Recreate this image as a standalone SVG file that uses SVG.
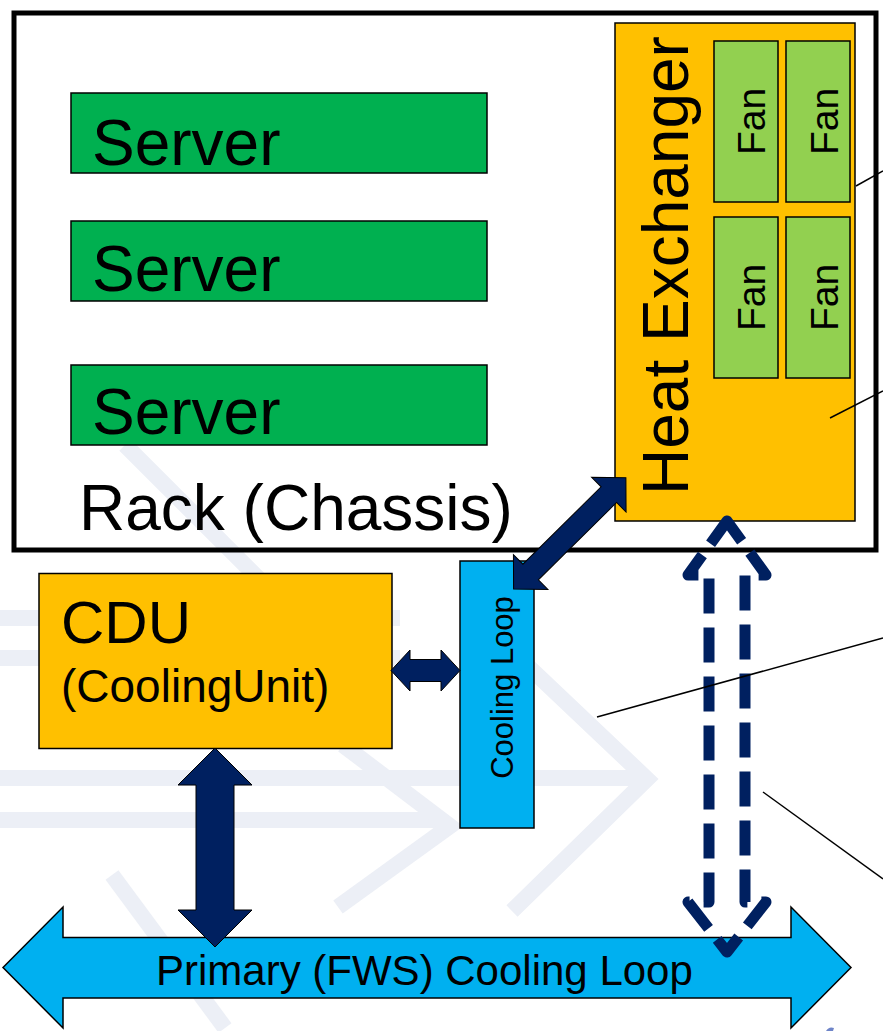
<svg xmlns="http://www.w3.org/2000/svg" width="883" height="1031" viewBox="0 0 883 1031">
<style>
.box{stroke:#000;stroke-width:1.5}
.t{font-family:"Liberation Sans",Arial,sans-serif;fill:#000}
.navy{fill:#002060;stroke:#000;stroke-width:1}
.wm{fill:none;stroke:#ECEFF6;stroke-width:16;stroke-linejoin:miter}
.lead{stroke:#000;stroke-width:1.5;fill:none}
</style>
<rect width="883" height="1031" fill="#fff"/>
<g id="watermark">
<path class="wm" d="M0,618 H400"/>
<path class="wm" d="M0,658 H400"/>
<path class="wm" d="M0,778 H640"/>
<path class="wm" d="M0,820 H440"/>
<path class="wm" d="M512,651 L647,779 L512,911"/>
<path class="wm" d="M343,745 L450,826 L338,907"/>
<path class="wm" d="M112,875 L225,1028"/>
<path class="wm" stroke-width="30" d="M125,445 L290,610"/>
</g>
<g id="rack">
<rect x="14" y="13" width="862" height="537" fill="none" stroke="#000" stroke-width="5"/>
<text class="t" x="79" y="530" font-size="64">Rack (Chassis)</text>
</g>
<g id="server1">
<rect class="box" x="71" y="93" width="416" height="80" fill="#00B050"/>
<text class="t" x="92" y="165" font-size="64">Server</text>
</g>
<g id="server2">
<rect class="box" x="71" y="221" width="416" height="80" fill="#00B050"/>
<text class="t" x="92" y="291" font-size="64">Server</text>
</g>
<g id="server3">
<rect class="box" x="71" y="365" width="416" height="80" fill="#00B050"/>
<text class="t" x="92" y="434" font-size="64">Server</text>
</g>
<g id="heat-exchanger">
<rect class="box" x="615" y="23" width="240" height="498" fill="#FFC000"/>
<text class="t" font-size="64" transform="translate(688,495) rotate(-90)">Heat Exchanger</text>
</g>
<g id="fan1">
<rect class="box" x="714" y="41" width="64" height="161" fill="#92D050"/>
<text class="t" font-size="39" text-anchor="middle" transform="translate(765,121.5) rotate(-90)">Fan</text>
</g>
<g id="fan2">
<rect class="box" x="786" y="41" width="64" height="161" fill="#92D050"/>
<text class="t" font-size="39" text-anchor="middle" transform="translate(838,121.5) rotate(-90)">Fan</text>
</g>
<g id="fan3">
<rect class="box" x="714" y="217" width="64" height="161" fill="#92D050"/>
<text class="t" font-size="39" text-anchor="middle" transform="translate(765,297.5) rotate(-90)">Fan</text>
</g>
<g id="fan4">
<rect class="box" x="786" y="217" width="64" height="161" fill="#92D050"/>
<text class="t" font-size="39" text-anchor="middle" transform="translate(838,297.5) rotate(-90)">Fan</text>
</g>
<g id="cdu">
<rect class="box" x="39" y="573.5" width="353" height="175" fill="#FFC000"/>
<text class="t" x="61" y="643" font-size="60">CDU</text>
<text class="t" x="61" y="702" font-size="46">(CoolingUnit)</text>
</g>
<g id="cooling-loop">
<rect class="box" x="460" y="561" width="74" height="267" fill="#00B0F0"/>
<text class="t" font-size="31" text-anchor="middle" transform="translate(513,687.5) rotate(-90)">Cooling Loop</text>
</g>
<g id="primary-loop">
<polygon class="box" fill="#00B0F0" points="3,967.5 63,907 63,937.5 791,937.5 791,907 851,967.5 791,1028 791,998 63,998 63,1028"/>
<text class="t" x="156" y="985" font-size="42">Primary (FWS) Cooling Loop</text>
</g>
<g id="connectors">
<polygon class="navy" points="-79,0 -55,-24.5 -55,-11 55,-11 55,-24.5 79,0 55,24.5 55,11 -55,11 -55,24.5" transform="translate(569.75,533.35) rotate(-44.7)"/>
<polygon class="navy" points="391,670.5 410,650 410,659.5 441,659.5 441,650 460,670.5 441,691 441,681.5 410,681.5 410,691"/>
<polygon class="navy" points="215,748 252,785 234,785 234,910 252,910 215,947 178,910 196,910 196,785 178,785"/>
<path d="M727,521 L766,575 L745,575 L745,902 L766,902 L727,952 L688,902 L709,902 L709,575 L688,575 Z" fill="none" stroke="#002060" stroke-width="11" stroke-linejoin="round" stroke-linecap="butt" stroke-dasharray="35 14" stroke-dashoffset="10"/>
</g>
<g id="leaders">
<line class="lead" x1="856" y1="186" x2="883" y2="171"/>
<line class="lead" x1="830" y1="418" x2="883" y2="391"/>
<line class="lead" x1="597" y1="717" x2="883" y2="638"/>
<line class="lead" x1="763" y1="792" x2="883" y2="879"/>
</g>
<path d="M826,1031 Q829,1026 834,1028 L833,1031 Z" fill="#3050B0" opacity="0.7"/>
</svg>
